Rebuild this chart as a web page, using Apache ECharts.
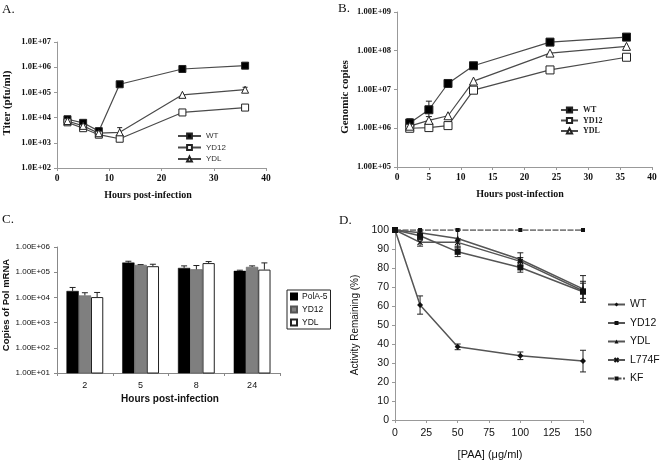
<!DOCTYPE html>
<html><head><meta charset="utf-8">
<script src="https://cdn.jsdelivr.net/npm/echarts@6/dist/echarts.min.js"></script>
<style>html,body{margin:0;padding:0;background:#fff}#c{width:664px;height:461px}</style>
</head><body><div id="c"></div>
<script>
// ---------- Panel A: titer ----------
const hoursA = [2, 5, 8, 12, 24, 36];
const titerWT = [8.6e3, 6.2e3, 2.9e3, 2.1e5, 8.5e5, 1.15e6];
const titerYD12 = [6.5e3, 3.8e3, 2.1e3, 1.45e3, 1.6e4, 2.5e4];
const titerYDL = [7.3e3, 4.7e3, 2.4e3, 2.6e3, 8.0e4, 1.28e5];
const errAx = [12, 36];
const errAlo = [1.9e3, 1.05e5];
const errAhi = [4.0e3, 1.6e5];
// ---------- Panel B: genomic copies ----------
const hoursB = [2, 5, 8, 12, 24, 36];
const copiesWT = [1.37e6, 3.0e6, 1.43e7, 4.1e7, 1.67e8, 2.25e8];
const copiesYD12 = [1.0e6, 1.04e6, 1.17e6, 9.6e6, 3.2e7, 6.8e7];
const copiesYDL = [1.13e6, 1.6e6, 2.1e6, 1.65e7, 8.7e7, 1.3e8];
const errBx = [2, 5];
const errBlo = [1.15e6, 2.0e6];
const errBhi = [1.75e6, 5.0e6];
// ---------- Panel C: Pol mRNA ----------
const hoursC = ['2', '5', '8', '24'];
const mrnaPolA5 = [1.8e4, 2.4e5, 1.48e5, 1.13e5];
const mrnaYD12 = [1.2e4, 1.95e5, 1.3e5, 1.62e5];
const mrnaYDL = [1.03e4, 1.73e5, 2.3e5, 1.27e5];
const errCPolA5 = [2.48e4, 2.72e5, 1.78e5, 1.2e5];
const errCYD12 = [1.53e4, 2.0e5, 1.84e5, 1.78e5];
const errCYDL = [1.57e4, 2.07e5, 2.64e5, 2.34e5];
// ---------- Panel D: activity remaining ----------
const paa = [0, 20, 50, 100, 150];
const actWT = [100, 60.5, 38.5, 33.8, 31];
const actYD12 = [100, 97, 88.5, 80.3, 67.5];
const actYDL = [100, 98.5, 95.5, 84.5, 69];
const actL774F = [100, 93.5, 93.5, 83.5, 68];
const actKF = [100, 100, 100, 100, 100];
const sdWT = [0, 4.8, 1.5, 2, 5.7];
const sdYD12 = [0, 2, 2.5, 2.5, 5.5];
const sdYDL = [0, 1.5, 5, 3.5, 7];
const sdL774F = [0, 2, 2, 2, 4];

const SERIF = '"Liberation Serif", "Times New Roman", serif';
const SANS = '"Liberation Sans", Arial, sans-serif';

function pair(xs, ys) { return xs.map((x, i) => [x, ys[i]]); }
function expLabel(digits) {
  return v => { const e = Math.round(Math.log10(v)); return '1.' + '0'.repeat(digits) + 'E+' + (e < 10 ? '0' : '') + e; };
}
function errRender(cap) {
  return function (params, api) {
    const x = api.value(0), lo = api.value(1), hi = api.value(2);
    const p1 = api.coord([x, lo]), p2 = api.coord([x, hi]);
    const st = { stroke: '#222', lineWidth: 1 };
    return { type: 'group', children: [
      { type: 'line', shape: { x1: p1[0], y1: p1[1], x2: p2[0], y2: p2[1] }, style: st },
      { type: 'line', shape: { x1: p1[0] - cap, y1: p1[1], x2: p1[0] + cap, y2: p1[1] }, style: st },
      { type: 'line', shape: { x1: p2[0] - cap, y1: p2[1], x2: p2[0] + cap, y2: p2[1] }, style: st }
    ] };
  };
}
const stripName = n => n.split(':')[1];
const lineGray = '#4a4a4a';

function abLine(name, data, xi, symbol, fill, size) {
  return { name: name, type: 'line', xAxisIndex: xi, yAxisIndex: xi, data: data,
    symbol: symbol, symbolSize: size, showSymbol: true,
    lineStyle: { color: lineGray, width: 1.2 },
    itemStyle: { color: fill, borderColor: '#222', borderWidth: 1 }, z: 3 };
}

const axisLineGray = { lineStyle: { color: '#999', width: 1 } };
const tickSmall = { show: true, length: 3, lineStyle: { color: '#999' } };

const barPct = 0.66;
function cErrRender(params, api) {
  const ci = api.value(0), hi = api.value(1), v = api.value(2), k = api.value(3);
  const b = api.coord([ci, v]), t = api.coord([ci, hi]);
  const band = api.coord([1, v])[0] - api.coord([0, v])[0];
  const bw = band * barPct / 3;
  const x = b[0] + (k - 1) * bw;
  const st = { stroke: '#222', lineWidth: 1 };
  return { type: 'group', children: [
    { type: 'line', shape: { x1: x, y1: b[1], x2: x, y2: t[1] }, style: st },
    { type: 'line', shape: { x1: x - 3, y1: t[1], x2: x + 3, y2: t[1] }, style: st }
  ] };
}
function cErrData(err, vals, k) { return err.map((e, i) => [i, e, vals[i], k]); }
function dErrData(vals, sd) { return paa.map((x, i) => [x, vals[i] - sd[i], vals[i] + sd[i]]).filter((d, i) => sd[i] > 0); }

const option = {
  animation: false,
  backgroundColor: '#fff',
  grid: [
    { left: 57, top: 42, width: 209, height: 126 },
    { left: 397, top: 12, width: 255, height: 155 },
    { left: 57, top: 247, width: 223, height: 126 },
    { left: 395, top: 230, width: 188, height: 190 }
  ],
  xAxis: [
    { gridIndex: 0, type: 'value', min: 0, max: 40, interval: 10, axisLine: axisLineGray, axisTick: tickSmall, splitLine: { show: false },
      axisLabel: { fontFamily: SERIF, fontWeight: 'bold', fontSize: 9.5, color: '#111', margin: 6 } },
    { gridIndex: 1, type: 'value', min: 0, max: 40, interval: 5, axisLine: axisLineGray, axisTick: tickSmall, splitLine: { show: false },
      axisLabel: { fontFamily: SERIF, fontWeight: 'bold', fontSize: 9.5, color: '#111', margin: 6 } },
    { gridIndex: 2, type: 'category', data: hoursC, axisLine: { lineStyle: { color: '#888' } }, axisTick: { show: true, length: 3, lineStyle: { color: '#888' } },
      axisLabel: { fontFamily: SANS, fontSize: 9, color: '#111', margin: 8 } },
    { gridIndex: 3, type: 'value', min: 0, max: 150, interval: 25, axisLine: axisLineGray, axisTick: { show: true, length: 3, lineStyle: { color: '#999' } }, splitLine: { show: false },
      axisLabel: { fontFamily: SANS, fontSize: 10.5, color: '#111', margin: 8 } }
  ],
  yAxis: [
    { gridIndex: 0, type: 'log', logBase: 10, min: 1e2, max: 1e7, axisLine: { show: true, lineStyle: { color: '#999' } }, axisTick: tickSmall, splitLine: { show: false }, minorTick: { show: false },
      axisLabel: { fontFamily: SERIF, fontWeight: 'bold', fontSize: 8.5, color: '#111', margin: 6, formatter: expLabel(1) } },
    { gridIndex: 1, type: 'log', logBase: 10, min: 1e5, max: 1e9, axisLine: { show: true, lineStyle: { color: '#999' } }, axisTick: tickSmall, splitLine: { show: false },
      axisLabel: { fontFamily: SERIF, fontWeight: 'bold', fontSize: 8.5, color: '#111', margin: 6, formatter: expLabel(2) } },
    { gridIndex: 2, type: 'log', logBase: 10, min: 1e1, max: 1e6, axisLine: { show: true, lineStyle: { color: '#888' } }, axisTick: { show: true, length: 3, lineStyle: { color: '#888' } }, splitLine: { show: false },
      axisLabel: { fontFamily: SANS, fontSize: 8, color: '#111', margin: 7, formatter: expLabel(2) } },
    { gridIndex: 3, type: 'value', min: 0, max: 100, interval: 10, axisLine: { show: true, lineStyle: { color: '#999' } }, axisTick: { show: true, length: 3, lineStyle: { color: '#999' } }, splitLine: { show: false },
      axisLabel: { fontFamily: SANS, fontSize: 10.5, color: '#111', margin: 6 } }
  ],
  legend: [
    { data: ['A:WT', 'A:YD12', 'A:YDL'], formatter: stripName, orient: 'vertical', left: 177, top: 132, itemWidth: 23, itemHeight: 6, itemGap: 3.5, padding: 0,
      textStyle: { fontFamily: SANS, fontSize: 8, color: '#333' } },
    { data: ['B:WT', 'B:YD12', 'B:YDL'], formatter: stripName, orient: 'vertical', left: 560, top: 106, itemWidth: 17, itemHeight: 6.5, itemGap: 2.5, padding: 0,
      textStyle: { fontFamily: SERIF, fontWeight: 'bold', fontSize: 8, color: '#222' } },
    { data: ['C:PolA-5', 'C:YD12', 'C:YDL'], formatter: stripName, orient: 'vertical', left: 287, top: 290, itemWidth: 6, itemHeight: 6, itemGap: 4, padding: [2, 3, 2, 3],
      borderColor: '#222', borderWidth: 1, icon: 'rect', textStyle: { fontFamily: SANS, fontSize: 8.5, color: '#111' } },
    { data: ['D:WT', 'D:YD12', 'D:YDL', 'D:L774F', 'D:KF'], formatter: stripName, orient: 'vertical', left: 607, top: 299, itemWidth: 17, itemHeight: 5, itemGap: 7.5, padding: 0,
      textStyle: { fontFamily: SANS, fontSize: 10.5, color: '#111' } }
  ],
  series: [
    // A
    abLine('A:WT', pair(hoursA, titerWT), 0, 'rect', '#000', 7),
    abLine('A:YD12', pair(hoursA, titerYD12), 0, 'rect', '#fff', 7),
    abLine('A:YDL', pair(hoursA, titerYDL), 0, 'triangle', '#fff', 7),
    { type: 'custom', xAxisIndex: 0, yAxisIndex: 0, renderItem: errRender(2.5), encode: { x: 0, y: [1, 2] },
      data: errAx.map((x, i) => [x, errAlo[i], errAhi[i]]), z: 2 },
    // B
    abLine('B:WT', pair(hoursB, copiesWT), 1, 'rect', '#000', 8),
    abLine('B:YD12', pair(hoursB, copiesYD12), 1, 'rect', '#fff', 8),
    abLine('B:YDL', pair(hoursB, copiesYDL), 1, 'triangle', '#fff', 8),
    { type: 'custom', xAxisIndex: 1, yAxisIndex: 1, renderItem: errRender(3), encode: { x: 0, y: [1, 2] },
      data: errBx.map((x, i) => [x, errBlo[i], errBhi[i]]), z: 2 },
    // C
    { name: 'C:PolA-5', type: 'bar', xAxisIndex: 2, yAxisIndex: 2, data: mrnaPolA5, barGap: '0%', barCategoryGap: '34%',
      itemStyle: { color: '#000', borderColor: '#000', borderWidth: 0.5 }, clip: true },
    { name: 'C:YD12', type: 'bar', xAxisIndex: 2, yAxisIndex: 2, data: mrnaYD12, barGap: '0%', barCategoryGap: '34%',
      itemStyle: { color: '#7f7f7f', borderColor: '#555', borderWidth: 0.5 }, clip: true },
    { name: 'C:YDL', type: 'bar', xAxisIndex: 2, yAxisIndex: 2, data: mrnaYDL, barGap: '0%', barCategoryGap: '34%',
      itemStyle: { color: '#fff', borderColor: '#222', borderWidth: 1 }, clip: true },
    { type: 'custom', xAxisIndex: 2, yAxisIndex: 2, renderItem: cErrRender, encode: { x: 0, y: [1, 2] },
      data: cErrData(errCPolA5, mrnaPolA5, 0).concat(cErrData(errCYD12, mrnaYD12, 1), cErrData(errCYDL, mrnaYDL, 2)), z: 3 },
    // D
    { name: 'D:WT', type: 'line', xAxisIndex: 3, yAxisIndex: 3, data: pair(paa, actWT), symbol: 'diamond', symbolSize: 6,
      lineStyle: { color: '#555', width: 1.5 }, itemStyle: { color: '#111' }, z: 3 },
    { name: 'D:YD12', type: 'line', xAxisIndex: 3, yAxisIndex: 3, data: pair(paa, actYD12), symbol: 'rect', symbolSize: 6,
      lineStyle: { color: '#555', width: 1.5 }, itemStyle: { color: '#111' }, z: 3 },
    { name: 'D:YDL', type: 'line', xAxisIndex: 3, yAxisIndex: 3, data: pair(paa, actYDL), symbol: 'triangle', symbolSize: 6,
      lineStyle: { color: '#555', width: 1.5 }, itemStyle: { color: '#111' }, z: 3 },
    { name: 'D:L774F', type: 'line', xAxisIndex: 3, yAxisIndex: 3, data: pair(paa, actL774F), symbol: 'path://M0 0L10 10M10 0L0 10', symbolSize: 5,
      lineStyle: { color: '#555', width: 1.5 }, itemStyle: { color: '#111', borderColor: '#111', borderWidth: 1.2 }, z: 3 },
    { name: 'D:KF', type: 'line', xAxisIndex: 3, yAxisIndex: 3, data: pair(paa, actKF), symbol: 'rect', symbolSize: 4,
      lineStyle: { color: '#555', width: 1.5, type: [6, 1.5] }, itemStyle: { color: '#111' }, z: 3 },
    { type: 'custom', xAxisIndex: 3, yAxisIndex: 3, renderItem: errRender(3), encode: { x: 0, y: [1, 2] },
      data: dErrData(actWT, sdWT).concat(dErrData(actYD12, sdYD12), dErrData(actYDL, sdYDL), dErrData(actL774F, sdL774F)), z: 2 }
  ],
  graphic: [
    { type: 'text', left: 2, top: 3, style: { text: 'A.', font: '13px ' + SERIF, fill: '#111' } },
    { type: 'text', left: 338, top: 2, style: { text: 'B.', font: '13px ' + SERIF, fill: '#111' } },
    { type: 'text', left: 2, top: 213, style: { text: 'C.', font: '13px ' + SERIF, fill: '#111' } },
    { type: 'text', left: 339, top: 214, style: { text: 'D.', font: '13px ' + SERIF, fill: '#111' } },
    { type: 'text', x: 148, y: 195, style: { text: 'Hours post-infection', font: 'bold 10px ' + SERIF, fill: '#111', align: 'center', verticalAlign: 'middle' } },
    { type: 'text', x: 7, y: 103, rotation: Math.PI / 2, style: { text: 'Titer (pfu/ml)', font: 'bold 11px ' + SERIF, fill: '#111', align: 'center', verticalAlign: 'middle' } },
    { type: 'text', x: 520, y: 194, style: { text: 'Hours post-infection', font: 'bold 10px ' + SERIF, fill: '#111', align: 'center', verticalAlign: 'middle' } },
    { type: 'text', x: 345, y: 97, rotation: Math.PI / 2, style: { text: 'Genomic copies', font: 'bold 11px ' + SERIF, fill: '#111', align: 'center', verticalAlign: 'middle' } },
    { type: 'text', x: 170, y: 399, style: { text: 'Hours post-infection', font: 'bold 10px ' + SANS, fill: '#111', align: 'center', verticalAlign: 'middle' } },
    { type: 'text', x: 6, y: 305, rotation: Math.PI / 2, style: { text: 'Copies of Pol mRNA', font: 'bold 9.5px ' + SANS, fill: '#111', align: 'center', verticalAlign: 'middle' } },
    { type: 'text', x: 490, y: 455, style: { text: '[PAA] (μg/ml)', font: '11px ' + SANS, fill: '#111', align: 'center', verticalAlign: 'middle' } },
    { type: 'text', x: 355, y: 325, rotation: Math.PI / 2, style: { text: 'Activity Remaining (%)', font: '10px ' + SANS, fill: '#111', align: 'center', verticalAlign: 'middle' } }
  ]
};
const chart = echarts.init(document.getElementById('c'), null, { renderer: 'canvas' });
chart.setOption(option);
</script></body></html>
